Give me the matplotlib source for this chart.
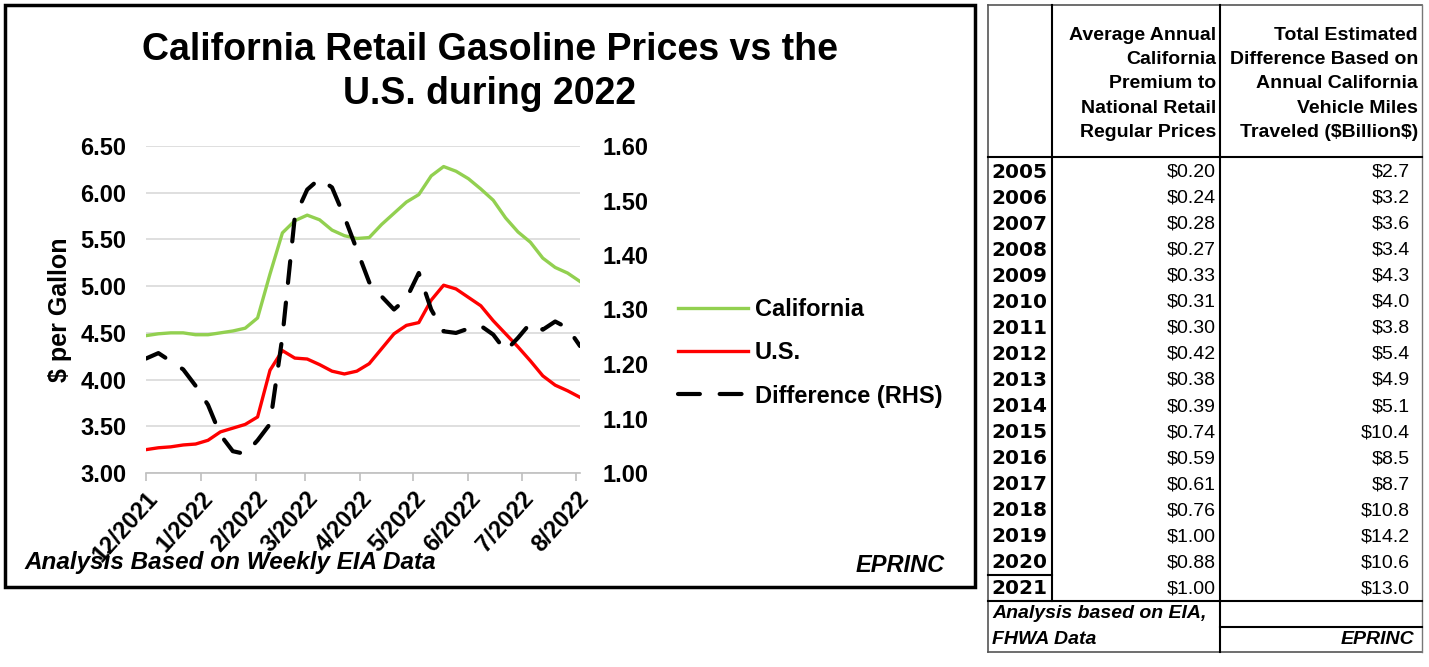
import numpy as np
import pandas as pd
import matplotlib
matplotlib.use('Agg')
import matplotlib.pyplot as plt
from matplotlib.lines import Line2D
from matplotlib.patches import Rectangle
from matplotlib.ticker import FormatStrFormatter

plt.rcParams['font.family'] = ['Liberation Sans', 'DejaVu Sans']
plt.rcParams['font.weight'] = 'bold'

W, H = 1429, 667

# weekly retail prices, $/gal
dates = pd.date_range('2021-12-01', periods=36, freq='7D')
california = [4.47, 4.49, 4.50, 4.50, 4.48, 4.48, 4.50, 4.52, 4.55, 4.66,
              5.13, 5.57, 5.70, 5.76, 5.71, 5.60, 5.54, 5.51, 5.52, 5.66,
              5.78, 5.90, 5.98, 6.18, 6.28, 6.23, 6.15, 6.04, 5.92, 5.73,
              5.58, 5.47, 5.30, 5.20, 5.14, 5.05]
us = [3.25, 3.27, 3.28, 3.30, 3.31, 3.35, 3.44, 3.48, 3.52, 3.60,
      4.10, 4.31, 4.23, 4.22, 4.16, 4.09, 4.06, 4.09, 4.17, 4.33,
      4.49, 4.58, 4.61, 4.85, 5.01, 4.97, 4.88, 4.79, 4.63, 4.49,
      4.35, 4.20, 4.04, 3.94, 3.88, 3.81]
difference = [1.21, 1.22, 1.205, 1.19, 1.16, 1.125, 1.07, 1.04, 1.035, 1.06,
              1.09, 1.25, 1.47, 1.52, 1.54, 1.524, 1.47, 1.41, 1.35, 1.324,
              1.30, 1.32, 1.367, 1.30, 1.26, 1.257, 1.265, 1.27, 1.254, 1.224,
              1.248, 1.275, 1.263, 1.278, 1.266, 1.233]
month_ticks = pd.date_range('2021-12-01', '2022-08-01', freq='MS')

# table on the right
years = list(range(2005, 2022))
premium = [0.20, 0.24, 0.28, 0.27, 0.33, 0.31, 0.30, 0.42, 0.38, 0.39,
           0.74, 0.59, 0.61, 0.76, 1.00, 0.88, 1.00]
total_bn = [2.7, 3.2, 3.6, 3.4, 4.3, 4.0, 3.8, 5.4, 4.9, 5.1,
            10.4, 8.5, 8.7, 10.8, 14.2, 10.6, 13.0]


def fx(px):
    return px / W


def fy(py):
    return 1 - py / H


fig = plt.figure(figsize=(W / 100, H / 100), dpi=100)
ax = fig.add_axes([fx(146), fy(473), 434 / W, 327 / H])
ax2 = ax.twinx()

ax.plot(dates, california, color='#92D050', lw=2.4, label='California', zorder=3)
ax.plot(dates, us, color='#FF0000', lw=2.4, label='U.S.', zorder=3)
ax2.plot(dates, difference, color='black', lw=3, dashes=(5.25, 4.75),
         dash_capstyle='round', label='Difference (RHS)')

ax.set_xlim(dates[0], dates[-1])
ax.set_ylim(3, 6.5)
ax.set_yticks(np.arange(3, 6.51, 0.5))
ax.yaxis.set_major_formatter(FormatStrFormatter('%.2f'))
ax2.set_ylim(1.0, 1.6)
ax2.set_yticks(np.arange(1.0, 1.61, 0.1))
ax2.yaxis.set_major_formatter(FormatStrFormatter('%.2f'))

ax.yaxis.grid(True, color='#D9D9D9', lw=1.2)
ax.set_axisbelow(True)
for s in ['top', 'left', 'right']:
    ax.spines[s].set_visible(False)
ax.spines['bottom'].set_color('#BFBFBF')
ax.spines['bottom'].set_linewidth(1.2)
for s in ax2.spines.values():
    s.set_visible(False)

ax.set_xticks(month_ticks)
ax.set_xticklabels([f"{d.month}/{d.year}" for d in month_ticks],
                   rotation=48, ha='right', va='top', rotation_mode='anchor')
ax.tick_params(axis='x', length=6, color='#BFBFBF', width=1.2, pad=4, labelsize=17)
ax.tick_params(axis='y', length=0, pad=14, labelsize=17)
ax2.tick_params(axis='y', length=0, pad=16, labelsize=17)

ax.set_ylabel('$ per Gallon', fontsize=18, fontweight='bold')
ax.yaxis.set_label_coords(-0.17, 0.5)

handles = ax.get_lines() + ax2.get_lines()
fig.legend(handles, [h.get_label() for h in handles], loc='upper left',
           bbox_to_anchor=(fx(678), fy(298)), frameon=False, fontsize=17,
           handlelength=2.95, handletextpad=0.3, labelspacing=0.86,
           borderpad=0, borderaxespad=0)

fig.text(fx(490), fy(72), 'California Retail Gasoline Prices vs the\nU.S. during 2022',
         ha='center', va='center', fontsize=27, fontweight='bold', linespacing=1.3)
fig.text(fx(25), fy(563), 'Analysis Based on Weekly EIA Data', ha='left', va='center',
         fontsize=17.5, fontweight='bold', style='italic')
fig.text(fx(945), fy(565), 'EPRINC', ha='right', va='center',
         fontsize=17, fontweight='bold', style='italic')

fig.add_artist(Rectangle((fx(5), fy(587)), 970 / W, 582 / H, transform=fig.transFigure,
                         fill=False, lw=2.5, ec='black'))


def hline(y, x1, x2, color='black', lw=1.5):
    fig.add_artist(Line2D([fx(x1), fx(x2)], [fy(y), fy(y)], transform=fig.transFigure,
                          color=color, lw=lw))


def vline(x, y1, y2, color='black', lw=1.5):
    fig.add_artist(Line2D([fx(x), fx(x)], [fy(y1), fy(y2)], transform=fig.transFigure,
                          color=color, lw=lw))


# table frame
hline(5, 988, 1422, color='#555555', lw=1.2)
hline(652, 988, 1422, color='#555555', lw=1.2)
vline(988, 5, 652, color='#555555', lw=1.2)
vline(1422, 5, 652, color='#777777', lw=1.0)
vline(1052, 5, 601)
vline(1220, 5, 652)
hline(157, 988, 1422)
hline(575, 988, 1052)
hline(601, 988, 1422)
hline(627, 1220, 1422)

fig.text(fx(1216), fy(84), 'Average Annual\nCalifornia\nPremium to\nNational Retail\nRegular Prices',
         ha='right', va='center', multialignment='right', fontsize=14,
         fontweight='bold', linespacing=1.57)
fig.text(fx(1418), fy(84), 'Total Estimated\nDifference Based on\nAnnual California\nVehicle Miles\nTraveled (\\$Billion\\$)',
         ha='right', va='center', multialignment='right', fontsize=14,
         fontweight='bold', linespacing=1.57)

for k, yr in enumerate(years):
    y = 172 + 26.06 * k
    fig.text(fx(1047), fy(y), str(yr), ha='right', va='center', fontsize=14.5,
             fontweight='bold', family='DejaVu Sans')
    fig.text(fx(1216), fy(y), f"\\${premium[k]:.2f}", ha='right', va='center',
             fontsize=14, fontweight='normal')
    fig.text(fx(1410), fy(y), f"\\${total_bn[k]:.1f}", ha='right', va='center',
             fontsize=14, fontweight='normal')

fig.text(fx(992), fy(614), 'Analysis based on EIA,', ha='left', va='center',
         fontsize=14, fontweight='bold', style='italic')
fig.text(fx(992), fy(640), 'FHWA Data', ha='left', va='center',
         fontsize=14, fontweight='bold', style='italic')
fig.text(fx(1414), fy(640), 'EPRINC', ha='right', va='center',
         fontsize=14, fontweight='bold', style='italic')

fig.savefig('out.png', dpi=100)
